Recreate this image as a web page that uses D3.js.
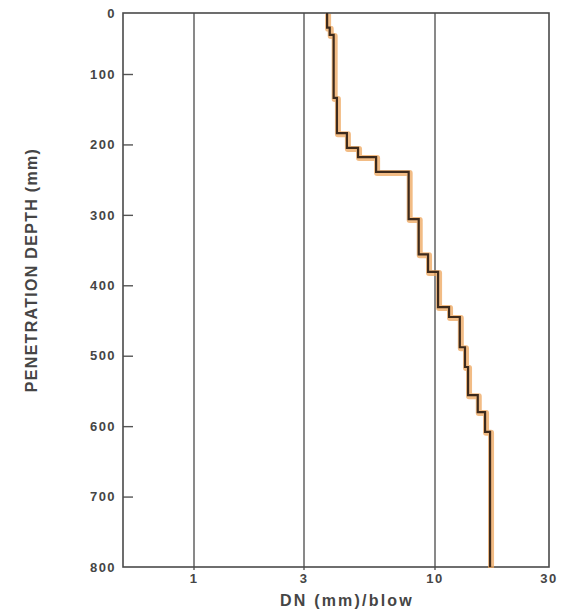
<!DOCTYPE html>
<html>
<head>
<meta charset="utf-8">
<script src="https://cdn.jsdelivr.net/npm/d3@7"></script>
<style>
  body { margin: 0; background: #fff; }
  text { font-family: "Liberation Sans", Arial, sans-serif; font-weight: bold; fill: #454545; }
</style>
</head>
<body>
<div id="chart"></div>
<script>
// Chart size
var svgWidth = 561;
var svgHeight = 609;

// Layer boundaries (mm) and DN value of each layer (mm/blow)
var depthBreaks = [0, 24, 36, 134, 184, 205, 218, 239, 306, 356, 381, 431, 445, 488, 516, 556, 580, 608, 800];
var dnValues = [3.71, 3.8, 3.94, 4.06, 4.45, 4.93, 5.82, 7.85, 8.61, 9.38, 10.3, 11.45, 12.7, 13.35, 13.75, 15.1, 16.2, 17.0];

// Axis ticks
var xTicks = [1, 3, 10, 30];
var xGrid = [1, 3, 10];
var yTicks = [0, 100, 200, 300, 400, 500, 600, 700, 800];

var svg = d3.select("#chart")
  .append("svg")
  .attr("width", svgWidth)
  .attr("height", svgHeight);

// Scales (the printed log axis and depth axis are slightly uneven, so piecewise)
var xScale = d3.scaleLog()
  .domain([0.5, 1, 3, 10, 30])
  .range([123, 194, 304, 435, 549]);

var yScale = d3.scaleLinear()
  .domain([0, 100, 800])
  .range([13, 74, 567]);

// Grid lines at 1, 3, 10
svg.selectAll(".grid")
  .data(xGrid)
  .enter()
  .append("line")
  .attr("x1", d => xScale(d))
  .attr("x2", d => xScale(d))
  .attr("y1", yScale(0))
  .attr("y2", yScale(800) + 3)
  .attr("stroke", "#4a4a4a")
  .attr("stroke-width", 1.3);

// Left axis with inward ticks
var leftAxis = d3.axisRight(yScale)
  .tickValues(yTicks.slice(1, -1))
  .tickSize(10)
  .tickFormat("");

svg.append("g")
  .attr("transform", `translate(${xScale(0.5)}, 0)`)
  .call(leftAxis)
  .call(g => g.select(".domain").remove())
  .selectAll("line")
  .attr("stroke", "#555")
  .attr("stroke-width", 1.4);

// Frame
svg.append("rect")
  .attr("x", xScale(0.5))
  .attr("y", yScale(0))
  .attr("width", xScale(30) - xScale(0.5))
  .attr("height", yScale(800) - yScale(0))
  .attr("fill", "none")
  .attr("stroke", "#4a4a4a")
  .attr("stroke-width", 1.6);

// Y tick labels
svg.selectAll(".ylab")
  .data(yTicks)
  .enter()
  .append("text")
  .attr("x", 116)
  .attr("y", d => yScale(d))
  .attr("dy", "0.36em")
  .attr("text-anchor", "end")
  .attr("font-size", 13)
  .attr("letter-spacing", 1.4)
  .text(d => d);

// X tick labels
svg.selectAll(".xlab")
  .data(xTicks)
  .enter()
  .append("text")
  .attr("x", d => xScale(d))
  .attr("y", 583)
  .attr("text-anchor", "middle")
  .attr("font-size", 13)
  .attr("letter-spacing", 1.4)
  .text(d => d);

// Axis titles
svg.append("text")
  .attr("x", 347)
  .attr("y", 606)
  .attr("text-anchor", "middle")
  .attr("font-size", 16)
  .attr("letter-spacing", 2.2)
  .text("DN (mm)/blow");

svg.append("text")
  .attr("transform", "translate(37, 270) rotate(-90)")
  .attr("text-anchor", "middle")
  .attr("font-size", 16)
  .attr("letter-spacing", 1.3)
  .text("PENETRATION DEPTH (mm)");

// Step profile points
var points = [];
dnValues.forEach(function(v, i) {
  points.push([v, depthBreaks[i]]);
  points.push([v, depthBreaks[i + 1]]);
});

var line = d3.line()
  .x(d => xScale(d[0]))
  .y(d => yScale(d[1]));

// Orange marker underneath
svg.append("path")
  .datum(points)
  .attr("d", line)
  .attr("transform", "translate(1, 1)")
  .attr("fill", "none")
  .attr("stroke", "#eea55c")
  .attr("stroke-opacity", 0.75)
  .attr("stroke-width", 6)
  .attr("stroke-linejoin", "round");

// Dark profile line
svg.append("path")
  .datum(points)
  .attr("d", line)
  .attr("fill", "none")
  .attr("stroke", "#3d2a1c")
  .attr("stroke-width", 2.2);
</script>
</body>
</html>
